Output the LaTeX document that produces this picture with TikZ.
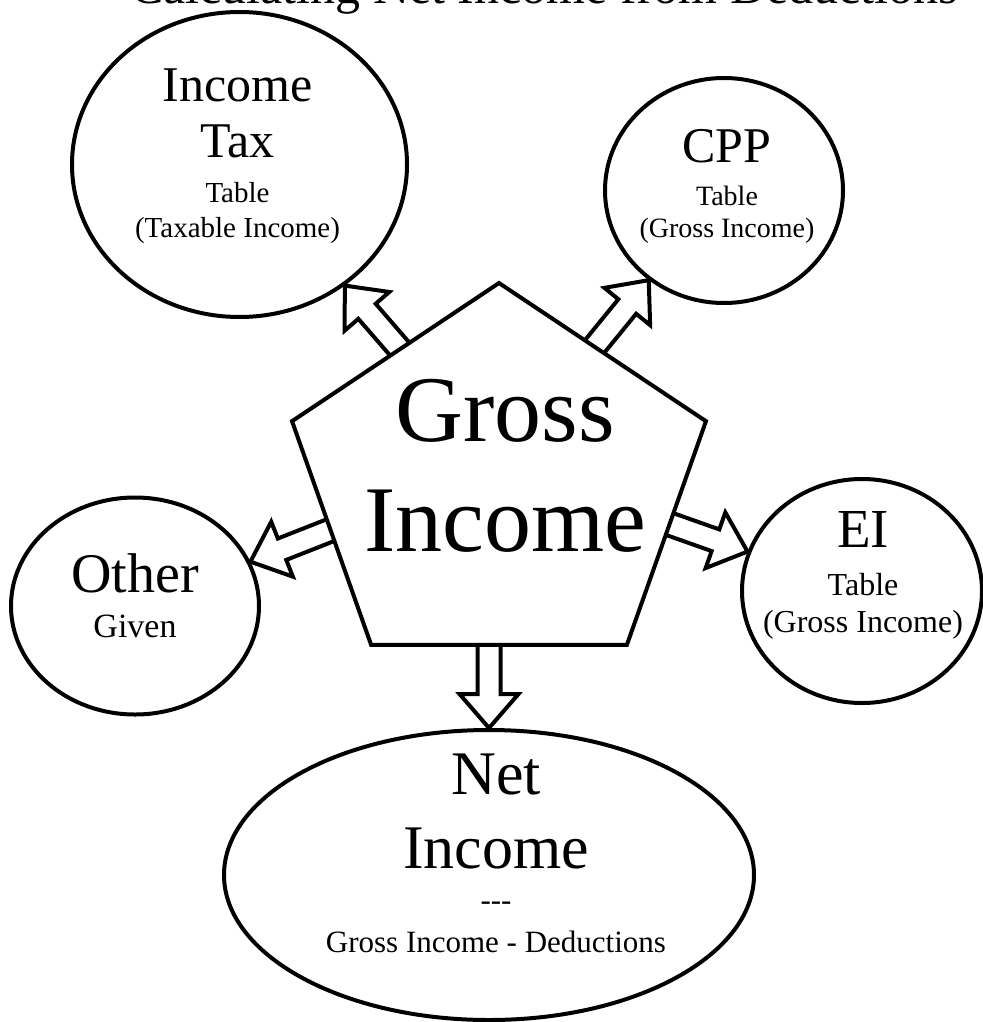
\documentclass[tikz,border=0pt]{standalone}
\usepackage{fontspec}
\setmainfont{Liberation Serif}
\usetikzlibrary{shapes.geometric,calc,backgrounds}
\newcommand{\setfs}[2]{\fontsize{#1}{#2}\selectfont\spaceskip=0pt\xspaceskip=0pt}

\begin{document}
\begin{tikzpicture}[x=1pt,y=-1pt,
  bubble/.style={ellipse,draw,line width=4,fill=white,inner sep=0},
  pentagon/.style={regular polygon,regular polygon sides=5,minimum size=400,inner sep=0,
    draw,line width=4,fill=white,xscale=1.088,transform shape},
  bubbletext/.style={align=flush center,text width=420,inner sep=0},
  blockarrow/.style={draw,line width=4,fill=white,
    to path={($(\tikztostart)!11.5pt!90:(\tikztotarget)$)
      -- ($(\tikztotarget)!34pt!(\tikztostart)!11.5pt!90:(\tikztotarget)$)
      -- ($(\tikztotarget)!34pt!(\tikztostart)!29.5pt!90:(\tikztotarget)$)
      -- (\tikztotarget)
      -- ($(\tikztotarget)!34pt!(\tikztostart)!29.5pt!-90:(\tikztotarget)$)
      -- ($(\tikztotarget)!34pt!(\tikztostart)!11.5pt!-90:(\tikztotarget)$)
      -- ($(\tikztostart)!11.5pt!-90:(\tikztotarget)$) -- cycle}}]
\useasboundingbox (0,0) rectangle (982,1022);
% title, cut by the top edge
\node[anchor=base,font=\setfs{50}{60}] (title) at (544,4) {Calculating Net Income from Deductions};
% centre
\node[pentagon] (gross) at (499,483) {};
\node[bubbletext,font=\setfs{94}{110}] (grosstext) at ($(gross)+(6,-17)$) {Gross\\Income};
\coordinate (hub) at ($(gross.corner 1)!0.5!(gross.side 3)$);
% deductions
\node[bubble,minimum width=335,minimum height=305] (tax) at (239.5,164.5) {};
\node[bubbletext] (taxtext) at ($(tax)+(-2,-8)$) {\setfs{50}{56}Income\\Tax\par\vspace{10pt}\setfs{29}{35}Table\\(Taxable Income)\par};
\node[bubble,minimum width=238,minimum height=225] (cpp) at (724,190.5) {};
\node[bubbletext] (cpptext) at ($(cpp)+(3,-4)$) {\setfs{50}{56}CPP\par\vspace{11pt}\setfs{28}{32}Table\\(Gross Income)\par};
\node[bubble,minimum width=240,minimum height=224] (ei) at (862,591) {};
\node[bubbletext] (eitext) at ($(ei)+(1,-16)$) {\setfs{55}{60}EI\par\vspace{11pt}\setfs{32}{37}Table\\(Gross Income)\par};
\node[bubble,minimum width=248,minimum height=217] (other) at (135,606) {};
\node[bubbletext] (othertext) at ($(other)+(0,-10)$) {\setfs{56}{60}Other\par\vspace{11pt}\setfs{34}{34}Given\par};
% result
\node[bubble,minimum width=530,minimum height=290] (net) at (489,875) {};
\node[bubbletext] (nettext) at ($(net)+(7,-22)$) {\setfs{62}{74}Net\\Income\par\setfs{31}{42}\mbox{-}\mbox{-}\mbox{-}\\Gross Income - Deductions\par};
% arrows behind the shapes
\begin{scope}[on background layer]
\draw[blockarrow] (hub) to (tax.-49);
\draw[blockarrow] (hub) to (cpp.-130);
\draw[blockarrow] (hub) to (ei.161);
\draw[blockarrow] (hub) to (other.21);
\draw[blockarrow] (hub -| net.north) to (net.north);
\end{scope}
\end{tikzpicture}
\end{document}
